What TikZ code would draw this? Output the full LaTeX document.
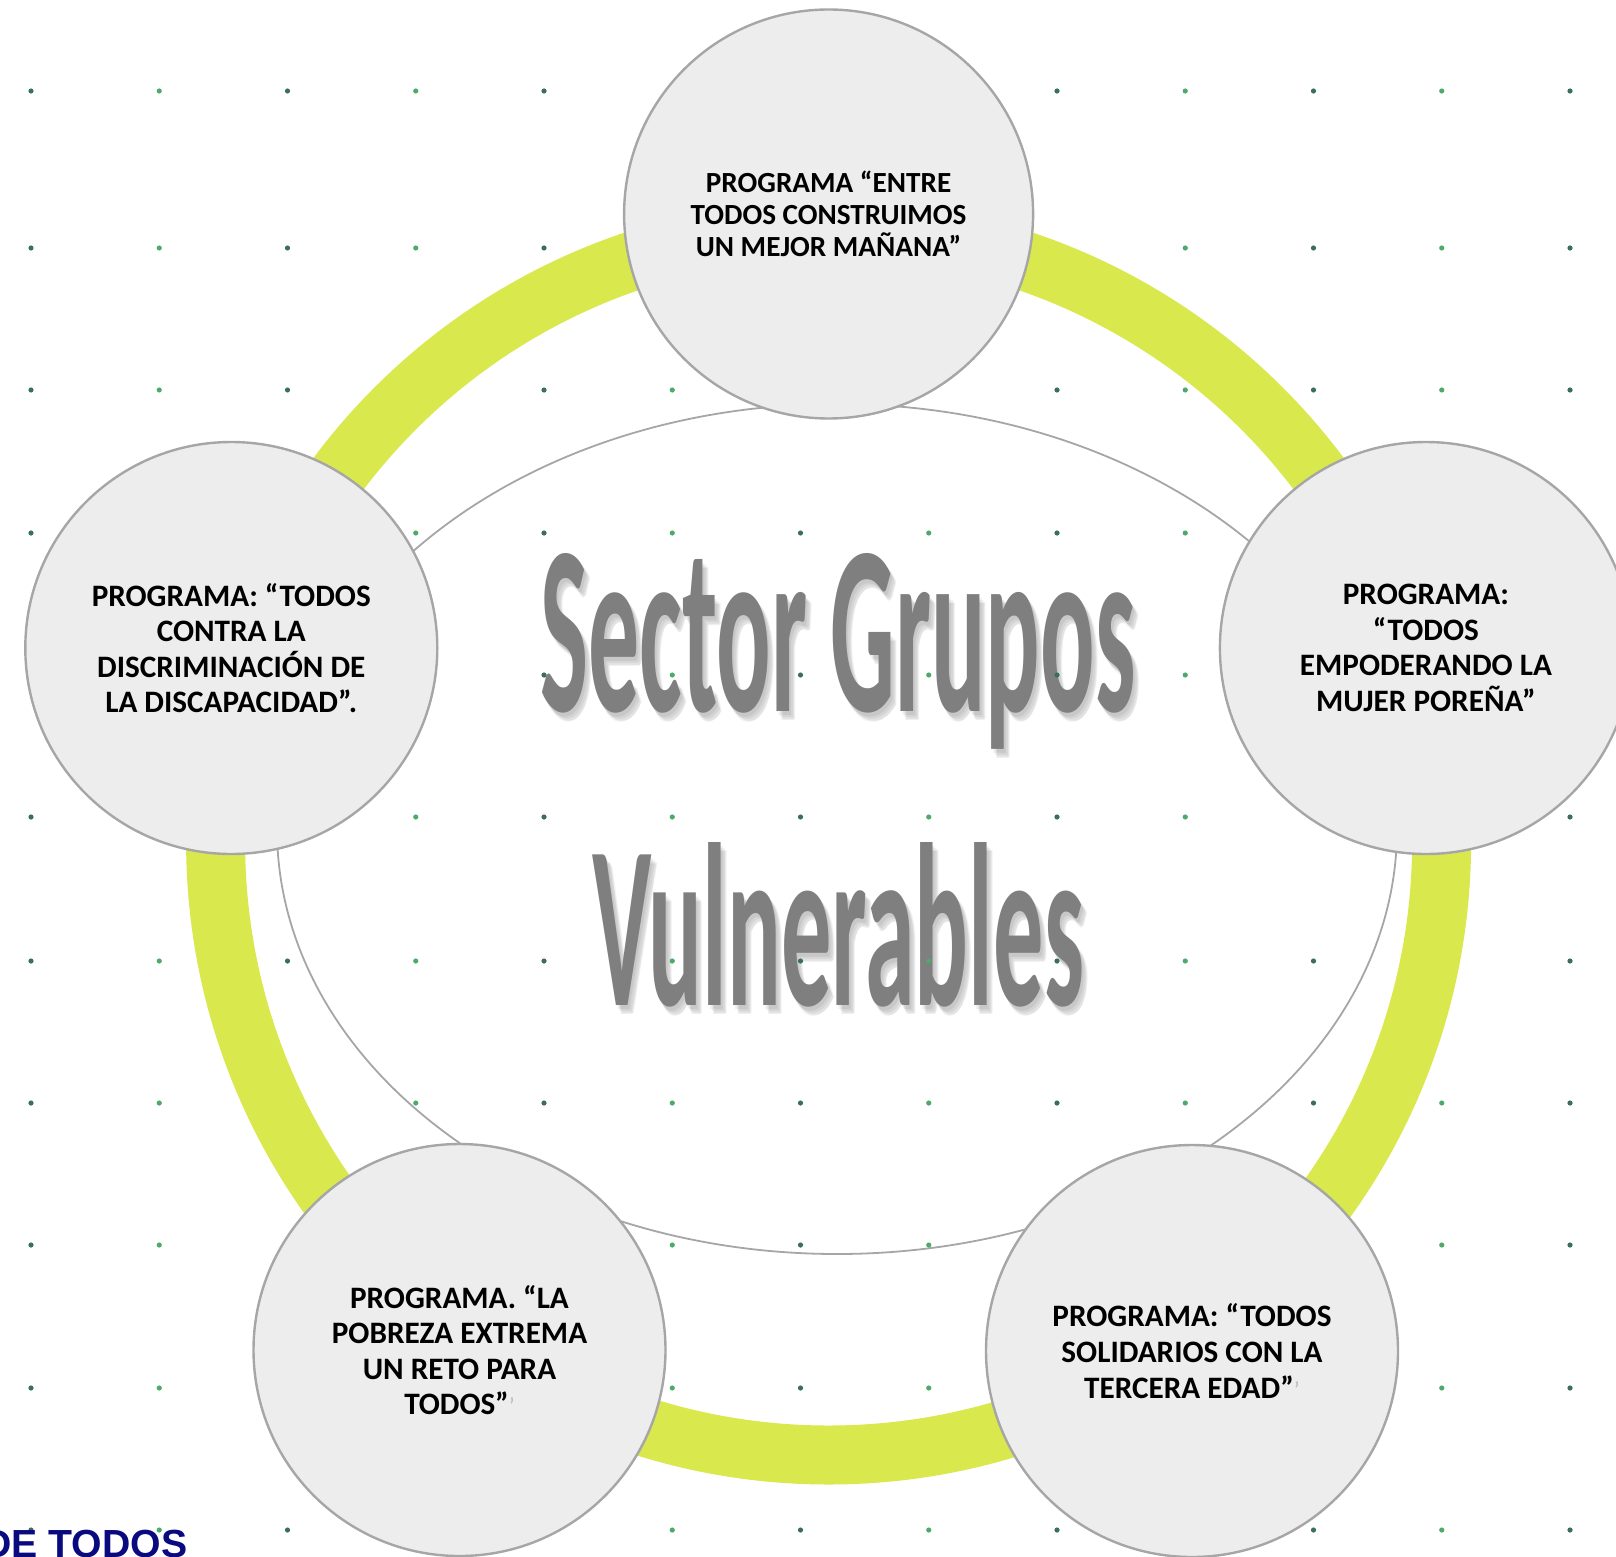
\documentclass[tikz,border=0pt]{standalone}
\usepackage{fontspec}
\setmainfont{Carlito}
\newfontfamily\arialfont{Liberation Sans}
\usepackage{graphicx}
\definecolor{ringgreen}{HTML}{D9E84C}
\definecolor{circfill}{HTML}{EDEDED}
\definecolor{circline}{HTML}{A6A6A6}
\definecolor{titlegray}{HTML}{7F7F7F}
\definecolor{dotdark}{HTML}{3A6E62}
\definecolor{dotgreen}{HTML}{4DAA6A}
\definecolor{navy}{HTML}{0A0A80}
\tikzset{
  prog/.style={circle, draw=circline, fill=circfill, line width=1.2pt, minimum size=206pt,
    align=center, inner sep=0pt, font=\bfseries\fontsize{15.6}{17.8}\selectfont},
  progtop/.style={prog, minimum size=204.5pt, font=\bfseries\fontsize{14.6}{15.9}\selectfont},
  titletext/.style={anchor=base, inner sep=0pt, text=titlegray, font=\bfseries},
  shadowtext/.style={titletext, text=black, opacity=0.06},
}
\newcommand{\tick}{\textcolor{gray!50}{\fontsize{12}{12}\selectfont\mdseries ’}}

\begin{document}
\begin{tikzpicture}[x=0.5pt, y=-0.5pt]
    \useasboundingbox (0,0) rectangle (1616,1557);
    \clip (0,0) rectangle (1616,1557);
    \draw[circline, line width=0.9pt] (837,829) ellipse[x radius=560, y radius=425];
    \foreach \dx/\dy in {2/4,4/6,6/8,5/9} {
        \node[shadowtext] (sh1) at (838+\dx,711+\dy) {\resizebox{297.5pt}{79pt}{Sector Grupos}};
        \node[shadowtext] (sh2) at (838+\dx,1005+\dy) {\resizebox{246pt}{81.5pt}{Vulnerables}};
    }
    \node[titletext] (t1) at (838,711) {\resizebox{297.5pt}{79pt}{Sector Grupos}};
    \node[titletext] (t2) at (838,1005) {\resizebox{246pt}{81.5pt}{Vulnerables}};
    \foreach \y in {91,248,390,533,675,817,961,1103,1245,1388,1530} {
        \foreach \i in {0,2,...,12} \fill[dotdark] ({31+128.25*\i},\y) circle[radius=2.6];
        \foreach \i in {1,3,...,11} \fill[dotgreen] ({31+128.25*\i},\y) circle[radius=2.6];
    }
    \draw[ringgreen, line width=29.5pt] (828.6,842) circle[radius=613];
    \node[progtop] (top) at (828.6,214) {PROGRAMA “ENTRE\\TODOS CONSTRUIMOS\\UN MEJOR MAÑANA”};
    \node[prog] (left) at (231.3,648) {PROGRAMA: “TODOS\\CONTRA LA\\DISCRIMINACIÓN DE\\LA DISCAPACIDAD”.};
    \node[prog] (right) at (1425.9,648) {PROGRAMA:\\“TODOS\\EMPODERANDO LA\\MUJER POREÑA”};
    \node[prog] (botleft) at (459.5,1350) {PROGRAMA. “LA\\POBREZA EXTREMA\\UN RETO PARA\\TODOS”\tick};
    \node[prog] (botright) at (1192,1351) {PROGRAMA: “TODOS\\SOLIDARIOS CON LA\\TERCERA EDAD”\tick};
    \node[anchor=base west, inner sep=0pt, text=navy, font=\arialfont\bfseries\fontsize{19.6}{20}\selectfont] (brand) at (-17,1557) {DE TODOS};
\end{tikzpicture}
\end{document}
